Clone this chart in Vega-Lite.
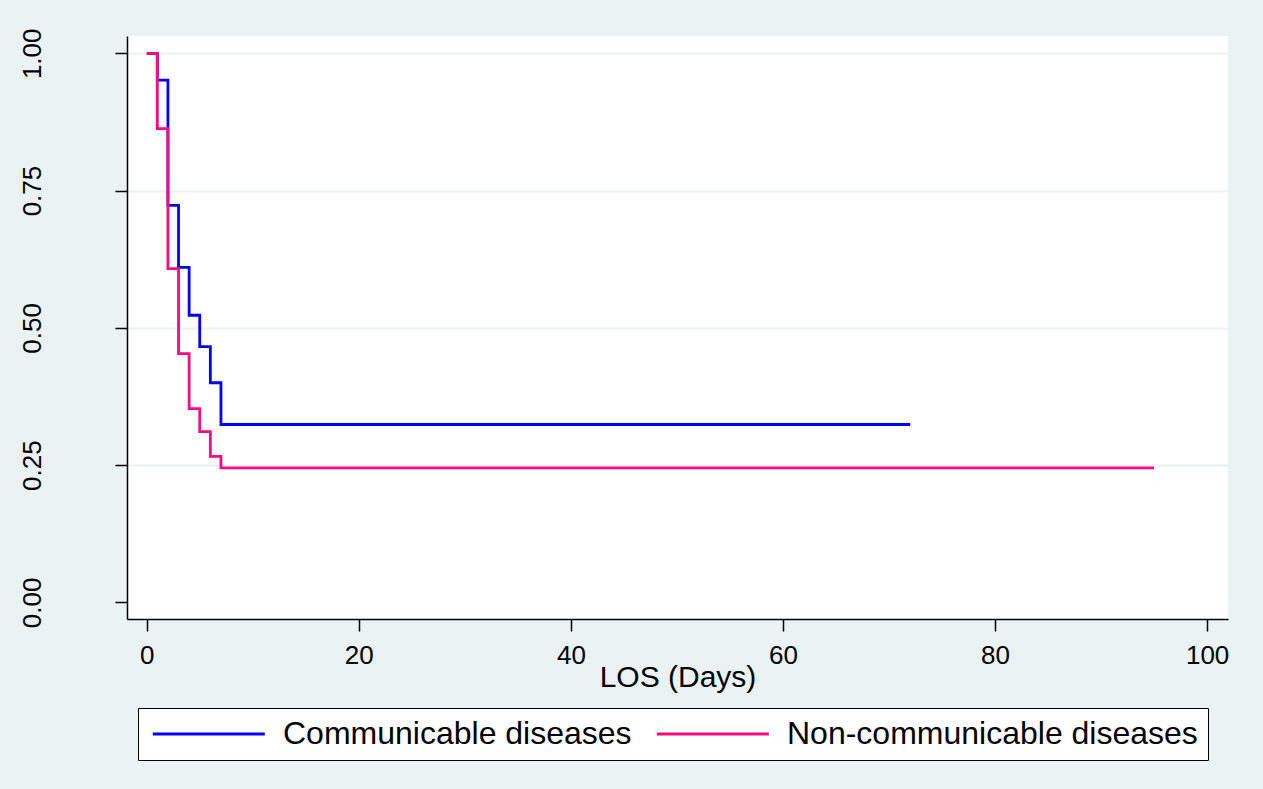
{
  "$schema": "https://vega.github.io/schema/vega-lite/v6.json",
  "width": 1101,
  "height": 583,
  "autosize": {"type": "none"},
  "padding": {"left": 127, "top": 36, "right": 35, "bottom": 170},
  "background": "#EAF2F3",
  "config": {
    "view": {"fill": "white", "stroke": null},
    "font": "Liberation Sans",
    "axis": {
      "domainColor": "black",
      "domainWidth": 1.5,
      "tickColor": "black",
      "tickWidth": 1.5,
      "tickSize": 12,
      "labelColor": "black",
      "labelFont": "Liberation Sans",
      "titleFont": "Liberation Sans",
      "titleColor": "black",
      "titleFontWeight": "normal"
    }
  },
  "data": {
    "values": [
      {"group": "Communicable diseases", "days": 0, "surv": 1.0},
      {"group": "Communicable diseases", "days": 1, "surv": 0.951},
      {"group": "Communicable diseases", "days": 2, "surv": 0.723},
      {"group": "Communicable diseases", "days": 3, "surv": 0.61},
      {"group": "Communicable diseases", "days": 4, "surv": 0.523},
      {"group": "Communicable diseases", "days": 5, "surv": 0.466},
      {"group": "Communicable diseases", "days": 6, "surv": 0.4},
      {"group": "Communicable diseases", "days": 7, "surv": 0.324},
      {"group": "Communicable diseases", "days": 72, "surv": 0.324},
      {"group": "Non-communicable diseases", "days": 0, "surv": 1.0},
      {"group": "Non-communicable diseases", "days": 1, "surv": 0.863},
      {"group": "Non-communicable diseases", "days": 2, "surv": 0.608},
      {"group": "Non-communicable diseases", "days": 3, "surv": 0.453},
      {"group": "Non-communicable diseases", "days": 4, "surv": 0.353},
      {"group": "Non-communicable diseases", "days": 5, "surv": 0.311},
      {"group": "Non-communicable diseases", "days": 6, "surv": 0.266},
      {"group": "Non-communicable diseases", "days": 7, "surv": 0.245},
      {"group": "Non-communicable diseases", "days": 95, "surv": 0.245}
    ]
  },
  "mark": {"type": "line", "interpolate": "step-after", "strokeWidth": 2.8},
  "encoding": {
    "x": {
      "field": "days",
      "type": "quantitative",
      "scale": {"domain": [-1.86, 101.97], "nice": false, "zero": false},
      "axis": {
        "title": "LOS (Days)",
        "values": [0, 20, 40, 60, 80, 100],
        "grid": false,
        "labelFontSize": 26,
        "labelPadding": 11,
        "labelFlush": false,
        "titleFontSize": 30,
        "titleBaseline": "alphabetic",
        "titleY": 67
      }
    },
    "y": {
      "field": "surv",
      "type": "quantitative",
      "scale": {"domain": [-0.0302, 1.0315], "nice": false, "zero": false},
      "axis": {
        "title": null,
        "values": [0, 0.25, 0.5, 0.75, 1],
        "format": ".2f",
        "labelAngle": 270,
        "labelFontSize": 26,
        "labelPadding": 70,
        "labelFlush": false,
        "grid": true,
        "gridColor": {"condition": {"test": "datum.value === 0", "value": "white"}, "value": "#EAF2F3"},
        "gridWidth": 2
      }
    },
    "color": {
      "field": "group",
      "type": "nominal",
      "scale": {"domain": ["Communicable diseases", "Non-communicable diseases"], "range": ["#0000FF", "#FF0A80"]},
      "legend": {
        "title": null,
        "orient": "none",
        "legendX": 11,
        "legendY": 672,
        "direction": "horizontal",
        "symbolType": "M-0.8,0H7.2",
        "symbolSize": 784,
        "symbolStrokeWidth": 2.8,
        "symbolFillColor": "transparent",
        "labelFontSize": 32,
        "labelColor": "black",
        "labelOffset": 103,
        "labelLimit": 0,
        "columnPadding": 19,
        "padding": 10,
        "strokeColor": "black",
        "fillColor": "white",
        "cornerRadius": 0
      }
    }
  }
}
